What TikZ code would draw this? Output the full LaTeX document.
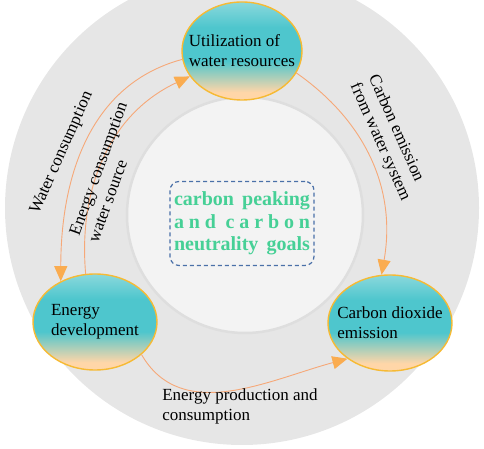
\documentclass[tikz,border=0pt]{standalone}
\usepackage{fontspec}
\setmainfont{Liberation Serif}
\usepackage{tikz}
\usetikzlibrary{arrows.meta,positioning,shapes.geometric}
\definecolor{ringgray}{RGB}{230,230,230}
\definecolor{coregray}{RGB}{243,243,243}
\definecolor{coreedge}{RGB}{222,222,222}
\definecolor{tealtop}{RGB}{138,216,220}
\definecolor{tealmid}{RGB}{78,198,205}
\definecolor{peach}{RGB}{255,214,168}
\definecolor{rimgold}{RGB}{246,186,52}
\definecolor{linkline}{RGB}{246,168,120}
\definecolor{linkhead}{RGB}{250,172,80}
\definecolor{goalblue}{RGB}{74,112,168}
\definecolor{goalgreen}{RGB}{70,208,150}
\pgfdeclareverticalshading{hubshade}{100bp}{color(0bp)=(peach); color(29bp)=(peach);
  color(45bp)=(tealmid); color(62bp)=(tealmid); color(75bp)=(tealtop); color(100bp)=(tealtop)}
\tikzset{
  hub/.style={
    ellipse, draw=rimgold, line width=1.4pt, shade, shading=hubshade,
    minimum width=124pt, minimum height=96pt, inner xsep=-12pt, inner ysep=0pt,
    font=\fontsize{17pt}{20pt}\selectfont, align=left
  },
  goal/.style={
    rectangle, rounded corners=9pt, draw=goalblue, dash pattern=on 4pt off 3pt,
    line width=1.2pt, minimum width=144pt, minimum height=84pt, inner sep=0pt,
    text=goalgreen, font=\fontsize{20pt}{22.5pt}\selectfont\bfseries, align=center
  },
  link/.style={draw=linkline, line width=0.9pt,
    -{Triangle[length=15pt,width=13pt,color=linkhead]}},
  lbl/.style={font=\fontsize{17pt}{20pt}\selectfont, align=left, inner sep=0pt},
}
\begin{document}
\begin{tikzpicture}[x=1pt, y=1pt]
  \useasboundingbox (0,0) rectangle (484,449);

  % Rings
  \fill[ringgray] (242,241) circle (237pt);
  \draw[coreedge, line width=2.5pt, fill=coregray] (245,234) circle (118pt);

  % Hubs
  \node[hub, minimum width=120pt, minimum height=98pt] (water) at (242,398)
        {Utilization of\\water resources};
  \node[hub] (energy) at (95,127) {Energy\\development};
  \node[hub] (carbon) at (390,126) {Carbon dioxide\\emission};

  % Goals
  \node[goal] (goals) at (242,225.5)
        {\makebox[136pt][s]{carbon peaking}\\
         \makebox[136pt][s]{a\hfill n\hfill d\hfill\hfill c\hfill a\hfill r\hfill b\hfill o\hfill n}\\
         \makebox[136pt][s]{neutrality goals}};

  % Links
  \draw[link] (water.188) to[out=195, in=90] (energy.130);
  \draw[link] (energy.101) to[out=95, in=205] (water.206);
  \draw[link] (water.-22) to[out=-35, in=80] (carbon.100);
  \draw[link] (energy.-35) to[out=-60, in=195] (carbon.220);

  % Link labels
  \node[lbl, rotate=66] (lwater) at (62,296) {Water consumption};
  \node[lbl, rotate=70] (lsource) at (107.5,277) {Energy consumption\\water source};
  \node[lbl, rotate=-66] (lemit) at (389,311) {Carbon emission\\from water system};
  \node[lbl] (lprod) at (240,43) {Energy production and\\consumption};

\end{tikzpicture}
\end{document}
